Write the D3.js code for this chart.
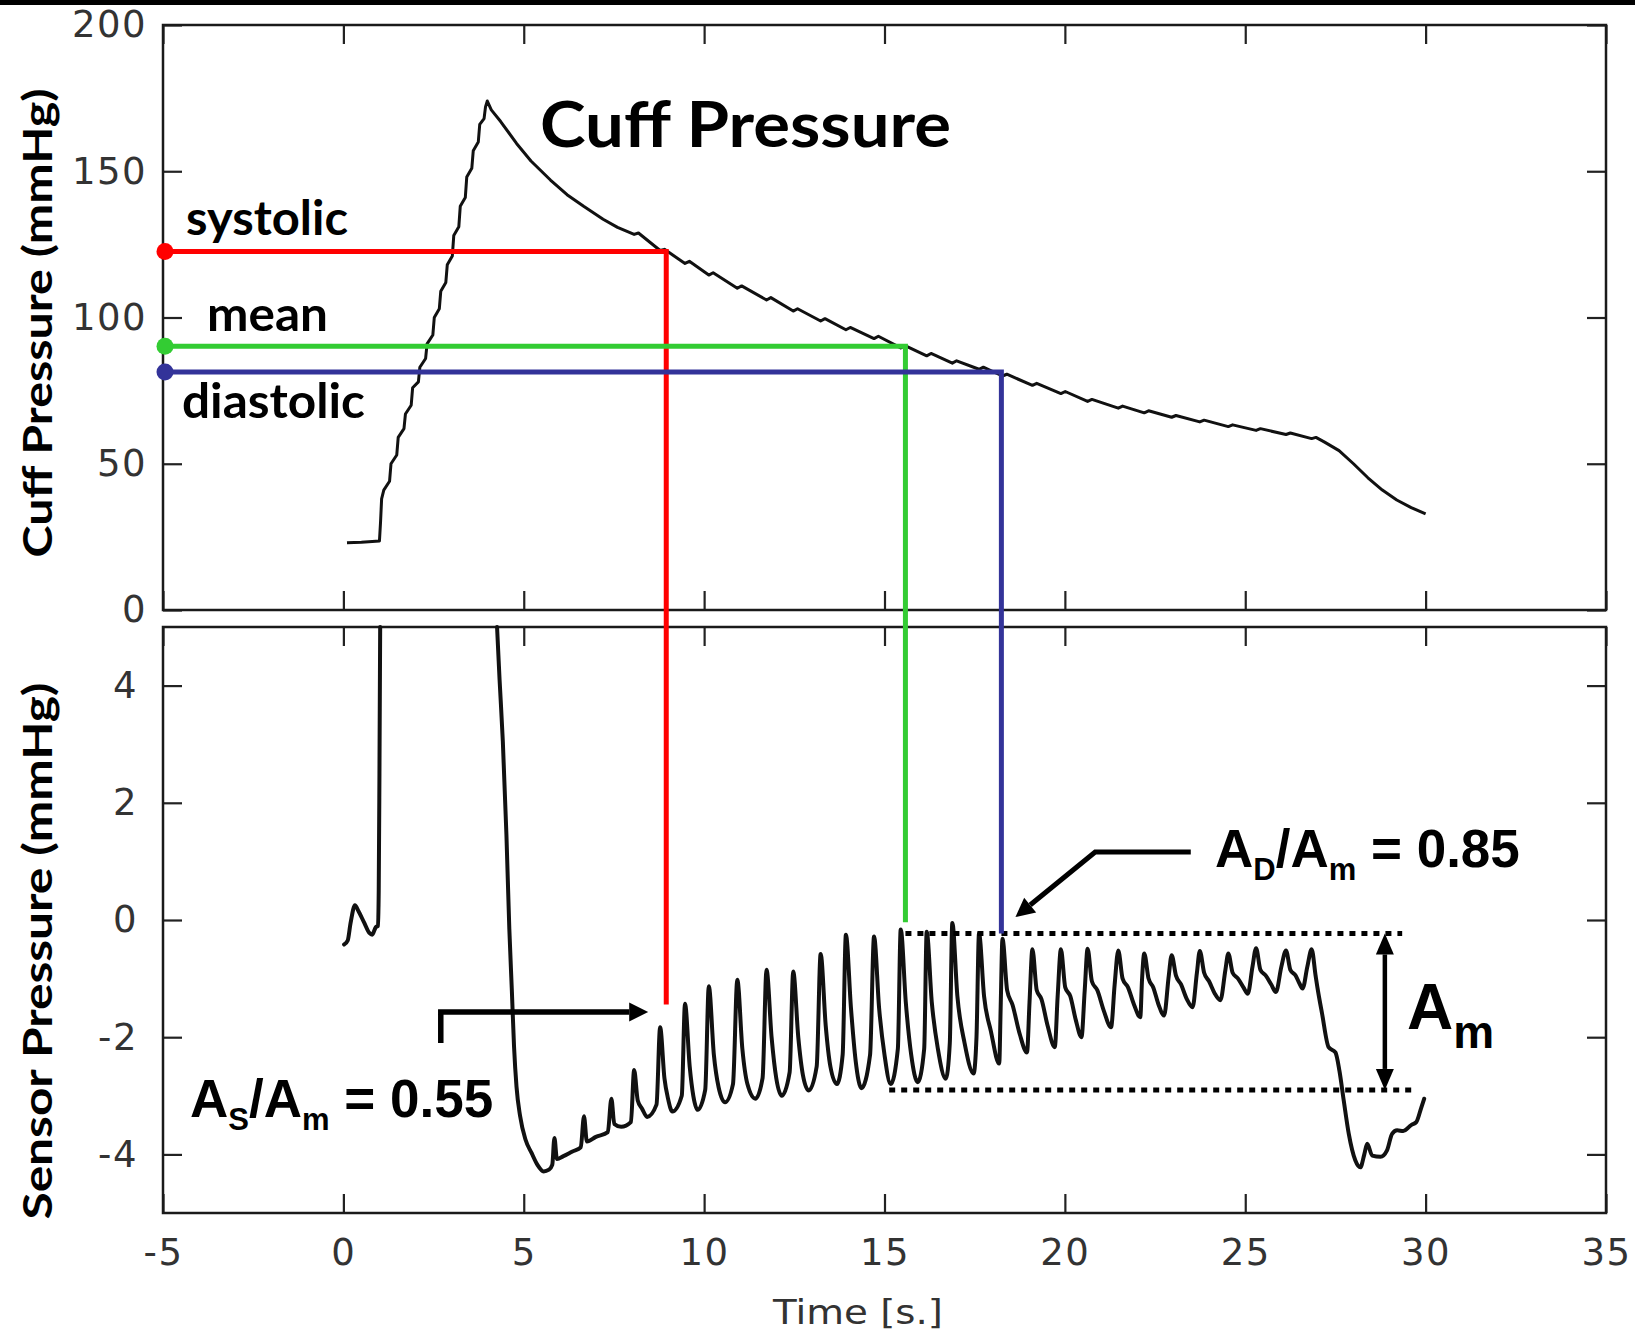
<!DOCTYPE html>
<html><head><meta charset="utf-8">
<script src="https://cdn.jsdelivr.net/npm/d3@7"></script>
<style>
html,body{margin:0;padding:0;background:#fff;}
svg{display:block;}
text{white-space:pre;}
</style></head>
<body>
<svg id="chart" width="1635" height="1337"></svg>
<script>
// ---------------- DATA ----------------
const timeTicks = [-5, 0, 5, 10, 15, 20, 25, 30, 35];
const cuffTicks = [0, 50, 100, 150, 200];
const sensorTicks = [-4, -2, 0, 2, 4];

// Cuff pressure (mmHg) vs time (s)
const cuffPressure = [
  [0.1,23.0],[0.5,23.2],[1.0,23.6],[1.03,30],[1.06,38],[1.12,41],[1.28,44],[1.32,50],[1.48,53],[1.52,59],
  [1.68,62],[1.72,67],[1.88,70],[1.92,76],[2.08,78],[2.12,83],[2.28,86],[2.32,91],[2.48,94],[2.52,100],
  [2.66,103],[2.70,109],[2.84,112],[2.88,118],[3.02,121],[3.06,128],[3.20,131],[3.24,138],[3.38,141],[3.42,148],
  [3.56,151],[3.60,157],[3.74,160],[3.78,166],[3.90,168],[3.94,172],[3.99,174],
  [4.1,171],[4.36,167],[4.8,159.5],[5.2,153.5],[5.74,147],[6.2,142],[6.66,138],[7.2,133.6],[7.6,130.8],
  [8.06,128.4],[8.18,128.9],[8.78,122.9],[8.9,123.3],[9.47,118.5],[9.59,119.2],[10.13,114.5],[10.25,115.3],
  [10.92,110.0],[11.04,110.8],[11.73,106.0],[11.85,106.8],[12.47,102.2],[12.59,103.0],[13.23,98.8],[13.35,99.6],
  [13.93,95.8],[14.05,96.6],[14.71,92.8],[14.83,93.6],[15.45,89.6],[15.57,90.4],[16.17,86.9],[16.29,87.7],
  [16.88,84.4],[17.0,85.2],[17.62,82.3],[17.74,83.0],[18.27,80.0],[18.39,80.6],[19.1,76.8],[19.22,77.5],
  [19.89,74.0],[20.01,74.7],[20.63,71.3],[20.75,72.0],[21.48,69.0],[21.6,69.7],[22.2,67.4],[22.32,68.1],
  [22.96,65.9],[23.08,66.5],[23.74,64.3],[23.86,64.9],[24.53,62.7],[24.65,63.3],[25.3,61.4],[25.42,62.0],
  [26.13,60.0],[26.25,60.5],[26.84,58.6],[26.96,59.0],
  [27.2,57.4],[27.6,54.5],[28.0,50.0],[28.4,45.2],[28.8,41.0],[29.2,37.6],[29.6,35.0],[30.0,32.9]
];

// Sensor pressure (mmHg) before the inflation goes off-scale
const sensorPressureStart = [
  [0.02,-0.42],[0.12,-0.35],[0.2,-0.05],[0.32,0.25],[0.42,0.15],[0.58,-0.05],[0.72,-0.22],[0.8,-0.25],
  [0.9,-0.12],[0.96,-0.1],[0.98,0.5],[1.0,2.5],[1.02,5.0]
];

// Sensor pressure (mmHg) during deflation
const sensorPressureMain = [
  [4.26,5.0],[4.33,4.1],[4.42,3.05],[4.52,1.45],[4.6,-0.15],[4.67,-1.2],[4.73,-2.15],[4.8,-2.85],[4.9,-3.35],
  [5.05,-3.75],[5.22,-3.98],[5.38,-4.18],[5.55,-4.29],[5.7,-4.26],[5.79,-4.18],[5.85,-3.72],[5.92,-4.08],
  [6.1,-4.03],[6.35,-3.95],[6.58,-3.88],[6.67,-3.35],[6.75,-3.78],[7.0,-3.7],[7.33,-3.62],[7.43,-3.05],
  [7.51,-3.48],[7.7,-3.53],[7.97,-3.45],[8.06,-2.56],[8.16,-3.08],[8.28,-3.22],[8.42,-3.36],
  [8.68,-3.15],[8.78,-1.83],[8.9,-2.7],[9.0,-3.05],[9.12,-3.27],
  [9.38,-3.0],[9.47,-1.43],[9.6,-2.5],[9.7,-3.0],[9.82,-3.24],
  [10.03,-2.9],[10.13,-1.13],[10.27,-2.3],[10.4,-2.85],[10.58,-3.11],
  [10.8,-2.8],[10.92,-1.02],[11.06,-2.2],[11.2,-2.8],[11.42,-3.05],
  [11.62,-2.7],[11.73,-0.85],[11.87,-2.0],[12.0,-2.7],[12.15,-3.0],
  [12.37,-2.6],[12.47,-0.88],[12.61,-2.0],[12.74,-2.65],[12.9,-2.91],
  [13.12,-2.5],[13.23,-0.58],[13.37,-1.8],[13.5,-2.5],[13.68,-2.8],
  [13.84,-2.3],[13.93,-0.25],[14.07,-1.5],[14.2,-2.4],[14.36,-2.87],
  [14.6,-2.3],[14.71,-0.28],[14.85,-1.5],[15.0,-2.3],[15.17,-2.8],
  [15.37,-2.2],[15.45,-0.16],[15.59,-1.4],[15.74,-2.3],[15.92,-2.77],
  [16.1,-2.2],[16.17,-0.2],[16.31,-1.4],[16.48,-2.2],[16.7,-2.71],
  [16.81,-2.1],[16.88,-0.05],[17.02,-1.3],[17.22,-2.1],[17.47,-2.62],
  [17.55,-2.0],[17.62,-0.23],[17.76,-1.3],[17.95,-1.9],[18.18,-2.45],
  [18.22,-1.5],[18.27,-0.32],[18.4,-1.2],[18.55,-1.45],[18.75,-1.95],[18.95,-2.26],
  [19.02,-1.4],[19.1,-0.5],[19.22,-1.2],[19.35,-1.35],[19.52,-1.8],[19.72,-2.17],
  [19.8,-1.3],[19.89,-0.5],[20.01,-1.15],[20.15,-1.3],[20.3,-1.7],[20.46,-2.0],
  [20.55,-1.2],[20.63,-0.49],[20.75,-1.05],[20.9,-1.2],[21.08,-1.55],[21.28,-1.83],
  [21.38,-1.1],[21.48,-0.52],[21.6,-1.0],[21.75,-1.15],[21.92,-1.45],[22.09,-1.66],
  [22.14,-1.0],[22.2,-0.57],[22.32,-1.0],[22.45,-1.15],[22.6,-1.45],[22.75,-1.63],
  [22.88,-0.95],[22.96,-0.6],[23.08,-0.95],[23.22,-1.1],[23.38,-1.35],[23.54,-1.49],
  [23.66,-0.9],[23.74,-0.53],[23.86,-0.9],[24.0,-1.05],[24.15,-1.25],[24.31,-1.37],
  [24.45,-0.85],[24.53,-0.57],[24.65,-0.9],[24.8,-1.0],[24.95,-1.15],[25.07,-1.26],
  [25.2,-0.8],[25.3,-0.48],[25.42,-0.85],[25.57,-0.95],[25.72,-1.1],[25.85,-1.23],
  [26.0,-0.8],[26.13,-0.52],[26.25,-0.85],[26.4,-0.95],[26.5,-1.08],[26.59,-1.17],
  [26.72,-0.8],[26.84,-0.5],[26.95,-0.95],[27.0,-1.15],[27.13,-1.6],[27.31,-2.17],[27.5,-2.26],
  [27.61,-2.57],[27.73,-3.08],[27.87,-3.65],[28.05,-4.1],[28.19,-4.22],[28.3,-4.0],[28.38,-3.82],
  [28.52,-4.02],[28.75,-4.04],[28.93,-3.93],[29.07,-3.65],[29.21,-3.59],[29.38,-3.6],[29.6,-3.5],
  [29.74,-3.45],[29.88,-3.2],[29.96,-3.05]
];

// Blood-pressure markers: cuff level (mmHg), time (s), sensor level where the guide ends (mmHg)
const markerNames  = ["systolic", "mean", "diastolic"];
const markerCuff   = [122.6, 90.2, 81.4];
const markerTime   = [8.95, 15.58, 18.24];
const markerSensor = [-1.44, -0.04, -0.23];

// Amplitude guides (sensor mmHg, time range s)
const amTopLevel = -0.23, amTopRange = [15.58, 29.35];
const amBottomLevel = -2.9, amBottomRange = [15.13, 29.6];
const amArrowTime = 28.87;

// Ratio annotations
const asRatio = "0.55";
const adRatio = "0.85";
const asArrowPath = [[2.70,-2.1],[2.70,-1.57],[8.45,-1.57]];
const adArrowPath = [[23.49,1.16],[20.84,1.16],[18.63,0.05]];

// ---------------- STYLE / LAYOUT ----------------
const markerColors = ["#ff0000", "#33cc33", "#333399"];
const svg = d3.select("#chart");
const W = 1635, H = 1337;
const x = d3.scaleLinear().domain([-5, 35]).range([163, 1606]);
const yTop = d3.scaleLinear().domain([0, 200]).range([610, 25]);
const yBot = d3.scaleLinear().domain([-5, 5]).range([1213, 627]);
const tickFont = "'DejaVu Sans', sans-serif";
const boldFont = "Lato, 'Open Sans', sans-serif";
const annFont = "'Liberation Sans', Arial, sans-serif";

svg.append("rect").attr("width", W).attr("height", H).attr("fill", "#fff");
svg.append("rect").attr("x", 0).attr("y", 0).attr("width", W).attr("height", 5).attr("fill", "#000");

function styleAxis(g, size) {
  g.select(".domain").remove();
  g.selectAll(".tick line").attr("stroke", "#222").attr("stroke-width", 2.2);
  g.attr("font-family", tickFont).attr("font-size", size);
  g.selectAll(".tick text").attr("fill", "#333").style("letter-spacing", "1.5px");
}
const TS = -19;
const noLabel = () => "";
const lbl = d => String(d);

// Top panel axes
svg.append("g").attr("transform", `translate(${x(-5)},0)`)
  .call(d3.axisLeft(yTop).tickValues(cuffTicks).tickSize(TS).tickSizeOuter(0).tickPadding(16).tickFormat(lbl))
  .call(g => styleAxis(g, 37));
svg.append("g").attr("transform", `translate(${x(35)},0)`)
  .call(d3.axisRight(yTop).tickValues(cuffTicks).tickSize(TS).tickSizeOuter(0).tickFormat(noLabel))
  .call(g => styleAxis(g, 37));
svg.append("g").attr("transform", `translate(0,${yTop(200)})`)
  .call(d3.axisTop(x).tickValues(timeTicks).tickSize(TS).tickSizeOuter(0).tickFormat(noLabel))
  .call(g => styleAxis(g, 37));
svg.append("g").attr("transform", `translate(0,${yTop(0)})`)
  .call(d3.axisBottom(x).tickValues(timeTicks).tickSize(TS).tickSizeOuter(0).tickFormat(noLabel))
  .call(g => styleAxis(g, 37));

// Bottom panel axes
svg.append("g").attr("transform", `translate(${x(-5)},0)`)
  .call(d3.axisLeft(yBot).tickValues(sensorTicks).tickSize(TS).tickSizeOuter(0).tickPadding(25).tickFormat(lbl))
  .call(g => styleAxis(g, 37));
svg.append("g").attr("transform", `translate(${x(35)},0)`)
  .call(d3.axisRight(yBot).tickValues(sensorTicks).tickSize(TS).tickSizeOuter(0).tickFormat(noLabel))
  .call(g => styleAxis(g, 37));
svg.append("g").attr("transform", `translate(0,${yBot(5)})`)
  .call(d3.axisTop(x).tickValues(timeTicks).tickSize(TS).tickSizeOuter(0).tickFormat(noLabel))
  .call(g => styleAxis(g, 37));
svg.append("g").attr("transform", `translate(0,${yBot(-5)})`)
  .call(d3.axisBottom(x).tickValues(timeTicks).tickSize(TS).tickSizeOuter(0).tickPadding(26).tickFormat(lbl))
  .call(g => styleAxis(g, 37));

// Frames
svg.append("rect").attr("x", x(-5)).attr("y", yTop(200)).attr("width", x(35) - x(-5)).attr("height", yTop(0) - yTop(200))
  .attr("fill", "none").attr("stroke", "#1a1a1a").attr("stroke-width", 2.5);
svg.append("rect").attr("x", x(-5)).attr("y", yBot(5)).attr("width", x(35) - x(-5)).attr("height", yBot(-5) - yBot(5))
  .attr("fill", "none").attr("stroke", "#1a1a1a").attr("stroke-width", 2.5);

// Curves
const cuffLine = d3.line().x(d => x(d[0])).y(d => yTop(d[1]));
svg.append("path").attr("d", cuffLine(cuffPressure)).attr("fill", "none").attr("stroke", "#111")
  .attr("stroke-width", 3).attr("stroke-linejoin", "round");

const sensorLine = d3.line().x(d => x(d[0])).y(d => yBot(d[1])).curve(d3.curveMonotoneX);
[sensorPressureStart, sensorPressureMain].forEach(seg => {
  svg.append("path").attr("d", sensorLine(seg)).attr("fill", "none").attr("stroke", "#111")
    .attr("stroke-width", 4).attr("stroke-linejoin", "round").attr("stroke-linecap", "round");
});

// Amplitude dotted guides
[[amTopLevel, amTopRange], [amBottomLevel, amBottomRange]].forEach(([lv, rg]) => {
  svg.append("line").attr("x1", x(rg[0])).attr("x2", x(rg[1])).attr("y1", yBot(lv)).attr("y2", yBot(lv))
    .attr("stroke", "#000").attr("stroke-width", 5).attr("stroke-dasharray", "6,6");
});

// Arrow helper
function arrowHead(tip, from, len, half) {
  const a = Math.atan2(tip[1] - from[1], tip[0] - from[0]);
  const bx = tip[0] - len * Math.cos(a), by = tip[1] - len * Math.sin(a);
  const px = -Math.sin(a) * half, py = Math.cos(a) * half;
  return { path: `M${tip[0]},${tip[1]}L${bx + px},${by + py}L${bx - px},${by - py}Z`, base: [bx, by] };
}
function drawArrow(pts, width) {
  const p = pts.map(d => [x(d[0]), yBot(d[1])]);
  const tip = p[p.length - 1], prev = p[p.length - 2];
  const h = arrowHead(tip, prev, 19, 9.5);
  const linePts = p.slice(0, -1).concat([h.base]);
  svg.append("path").attr("d", d3.line()(linePts)).attr("fill", "none").attr("stroke", "#000")
    .attr("stroke-width", width).attr("stroke-linejoin", "miter");
  svg.append("path").attr("d", h.path).attr("fill", "#000");
}
drawArrow(asArrowPath, 5.5);
drawArrow(adArrowPath, 5);

// A_m double arrow
{
  const ax = x(amArrowTime), y1 = yBot(amTopLevel), y2 = yBot(amBottomLevel);
  const hTop = arrowHead([ax, y1], [ax, y2], 21, 9);
  const hBot = arrowHead([ax, y2], [ax, y1], 21, 9);
  svg.append("line").attr("x1", ax).attr("x2", ax).attr("y1", hTop.base[1]).attr("y2", hBot.base[1])
    .attr("stroke", "#000").attr("stroke-width", 4.5);
  svg.append("path").attr("d", hTop.path).attr("fill", "#000");
  svg.append("path").attr("d", hBot.path).attr("fill", "#000");
}

// Marker guides
markerNames.forEach((n, i) => {
  const yy = yTop(markerCuff[i]), xx = x(markerTime[i]);
  svg.append("path").attr("d", `M${x(-5)},${yy}H${xx}V${yBot(markerSensor[i])}`)
    .attr("fill", "none").attr("stroke", markerColors[i]).attr("stroke-width", 5).attr("stroke-linejoin", "miter");
});
markerNames.forEach((n, i) => {
  svg.append("circle").attr("cx", x(-5) + 2).attr("cy", yTop(markerCuff[i])).attr("r", 8.5).attr("fill", markerColors[i]);
});

// Text labels
function boldText(str, xx, yy, size, len) {
  return svg.append("text").attr("x", xx).attr("y", yy).attr("font-family", boldFont).attr("font-weight", 700)
    .attr("font-size", size).attr("fill", "#000").attr("textLength", len).attr("lengthAdjust", "spacingAndGlyphs").text(str);
}
boldText("Cuff Pressure", 540, 147, 63, 411);
boldText(markerNames[0], 186, 235, 47, 162);
boldText(markerNames[1], 207, 331, 47, 121);
boldText(markerNames[2], 182, 418, 47, 183);

svg.append("text").attr("transform", "translate(52,323) rotate(-90)").attr("text-anchor", "middle")
  .attr("font-family", boldFont).attr("font-weight", 700).attr("font-size", 40)
  .attr("textLength", 469).attr("lengthAdjust", "spacingAndGlyphs").text("Cuff Pressure (mmHg)");
svg.append("text").attr("transform", "translate(52,951) rotate(-90)").attr("text-anchor", "middle")
  .attr("font-family", boldFont).attr("font-weight", 700).attr("font-size", 40)
  .attr("textLength", 537).attr("lengthAdjust", "spacingAndGlyphs").text("Sensor Pressure (mmHg)");

svg.append("text").attr("x", 858).attr("y", 1324).attr("text-anchor", "middle")
  .attr("font-family", tickFont).attr("font-size", 34).attr("fill", "#333")
  .attr("textLength", 170).attr("lengthAdjust", "spacingAndGlyphs").text("Time [s.]");

function ratioText(xx, yy, sub, val) {
  const t = svg.append("text").attr("x", xx).attr("y", yy).attr("font-family", annFont)
    .attr("font-weight", 700).attr("font-size", 53).attr("fill", "#000");
  t.append("tspan").text("A");
  t.append("tspan").attr("font-size", 31).attr("dy", 13).text(sub);
  t.append("tspan").attr("dy", -13).text("/A");
  t.append("tspan").attr("font-size", 31).attr("dy", 13).text("m");
  t.append("tspan").attr("dy", -13).text(" = " + val);
}
ratioText(190, 1117, "S", asRatio);
ratioText(1215, 867, "D", adRatio);

{
  const t = svg.append("text").attr("x", 1407).attr("y", 1029).attr("font-family", annFont)
    .attr("font-weight", 700).attr("font-size", 64).attr("fill", "#000");
  t.append("tspan").text("A");
  t.append("tspan").attr("font-size", 46).attr("dy", 19).text("m");
}
</script>
</body></html>
